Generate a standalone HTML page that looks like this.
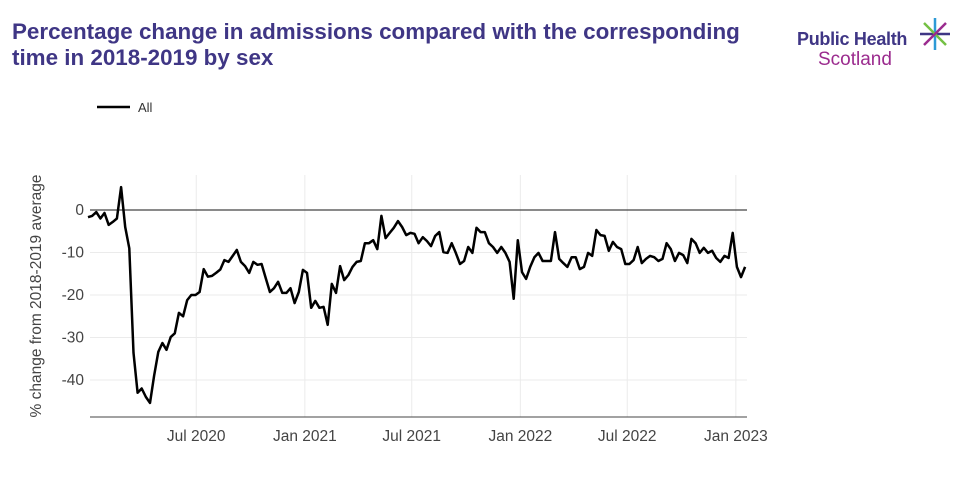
<!DOCTYPE html>
<html><head><meta charset="utf-8"><style>
body{margin:0;width:963px;height:486px;background:#fff;font-family:"Liberation Sans",sans-serif;overflow:hidden;position:relative}
.title{position:absolute;left:12px;top:19px;font-size:22.4px;font-weight:bold;color:#3f3685;line-height:26px;white-space:nowrap}
.logo{position:absolute;left:797px;top:29px;color:#3f3685;font-size:18px;font-weight:bold;letter-spacing:-0.3px}
.logo2{position:absolute;left:818px;top:49px;color:#9b2b8e;font-size:19px}
</style></head><body>
<div class="title">Percentage change in admissions compared with the corresponding<br>time in 2018-2019 by sex</div>
<div class="logo">Public Health</div>
<div class="logo2">Scotland</div>
<svg width="963" height="486" style="position:absolute;left:0;top:0" id="chart">
<g stroke-width="2.5">
<line x1="935" y1="18" x2="935" y2="50" stroke="#2d9ad6"/><line x1="920" y1="34" x2="950" y2="34" stroke="#3f3685"/>
<line x1="924" y1="23" x2="946" y2="45" stroke="#74c043"/><line x1="946" y1="23" x2="924" y2="45" stroke="#9b2b8e"/>
</g>
<g id="grid"></g><g id="axes"></g><path id="line" fill="none" stroke="#000" stroke-width="2.5" stroke-linejoin="round"/>
<line x1="97" y1="107" x2="130" y2="107" stroke="#000" stroke-width="2.5"/>
<text x="138" y="112" font-size="13" fill="#333">All</text>
<text transform="translate(41,296) rotate(-90)" text-anchor="middle" font-size="15.5" fill="#444">% change from 2018-2019 average</text>
</svg>
<script>
const values=[-1.7,-1.4,-0.5,-2,-0.7,-3.5,-2.8,-2,5.4,-4,-9,-33.6,-43,-42,-44,-45.4,-39,-33.4,-31.3,-32.9,-29.9,-29,-24.2,-25,-21.2,-20,-20,-19.3,-13.9,-15.7,-15.5,-14.8,-14,-11.8,-12.2,-10.8,-9.4,-12.2,-13.2,-14.8,-12.2,-12.9,-12.7,-16,-19.3,-18.4,-16.9,-19.5,-19.5,-18.4,-21.9,-19.3,-14.1,-14.8,-23,-21.4,-23,-22.8,-27,-17.4,-19.5,-13.2,-16.5,-15.3,-13.4,-12.2,-12,-7.8,-7.8,-7.1,-9.2,-1.4,-6.6,-5.4,-4.2,-2.6,-4,-5.9,-5.4,-5.6,-7.8,-6.4,-7.3,-8.5,-6.1,-5.2,-9.9,-10.1,-7.8,-10.1,-12.7,-12,-8.7,-10.1,-4.2,-5.2,-5.2,-7.8,-8.7,-10.1,-8.7,-10.1,-12.2,-20.9,-7.1,-14.6,-16.2,-13.4,-11.1,-10.1,-12,-12,-12,-5.2,-11.5,-12.5,-13.4,-11.1,-11.1,-13.9,-13.4,-10.1,-10.8,-4.7,-5.9,-6.1,-9.6,-7.5,-8.7,-9.2,-12.7,-12.7,-11.8,-8.7,-12.5,-11.5,-10.8,-11.1,-12,-11.5,-7.8,-9.2,-12,-10.1,-10.6,-12.5,-6.8,-7.8,-10.1,-8.9,-10.1,-9.6,-11.3,-12.2,-10.8,-11.3,-5.4,-13.4,-15.8,-13.4];
const yTicks=[0,-10,-20,-30,-40];
const xTickLabels=["Jul 2020","Jan 2021","Jul 2021","Jan 2022","Jul 2022","Jan 2023"];
const xTickDates=["2020-07-01","2021-01-01","2021-07-01","2022-01-01","2022-07-01","2023-01-01"];
const startDate="2019-12-29";
const X0=88,PXW=4.133;
const xIdx=i=>X0+i*PXW;
const xDate=d=>xIdx((new Date(d)-new Date(startDate))/864e5/7)-1;
const y=v=>210-v*4.25;
const NS="http://www.w3.org/2000/svg";
const grid=document.getElementById('grid'),axes=document.getElementById('axes');
function mk(p,tag,a){const e=document.createElementNS(NS,tag);for(const k in a)e.setAttribute(k,a[k]);p.appendChild(e);return e;}
xTickDates.forEach((d,i)=>{const x=xDate(d);
 const l=mk(grid,'line',{x1:x,x2:x,y1:175,y2:417,stroke:'#ebebeb','stroke-width':1});
 
 
 const t=mk(axes,'text',{x:x,y:441,'text-anchor':'middle','font-size':15.5,fill:'#444'});t.textContent=xTickLabels[i];
 
 });
yTicks.forEach(v=>{const yy=y(v);
 const l=mk(grid,'line',{x1:90,x2:747,y1:yy,y2:yy,stroke:v===0?'#444':'#ebebeb','stroke-width':v===0?1.3:1});
 
 
 const t=mk(axes,'text',{x:84,y:yy+5,'text-anchor':'end','font-size':15.5,fill:'#444'});t.textContent=v;
 
 });
const ax=mk(axes,'line',{x1:90,x2:747,y1:417,y2:417,stroke:'#444','stroke-width':1});


document.getElementById('line').setAttribute('d',values.map((v,i)=>(i?'L':'M')+xIdx(i).toFixed(1)+','+y(v).toFixed(1)).join(''));
</script>
</body></html>
